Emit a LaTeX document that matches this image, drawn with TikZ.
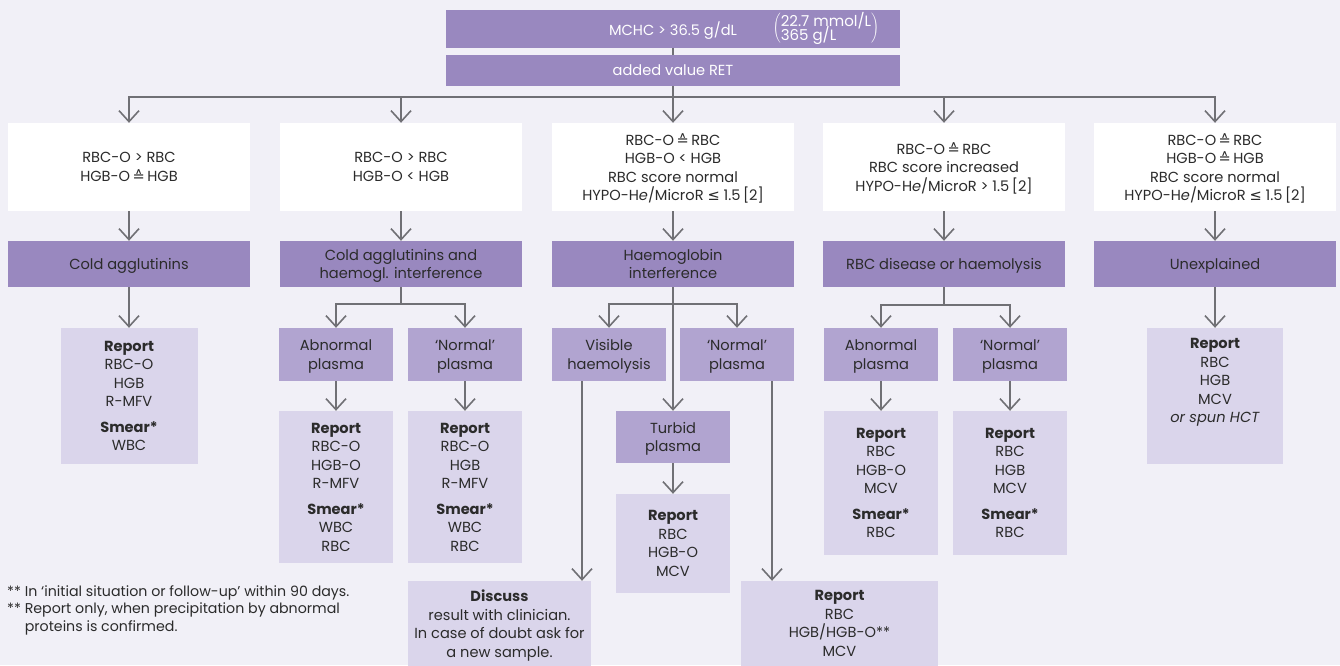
\documentclass[tikz,border=0pt]{standalone}
\usepackage{fontspec}
\setmainfont{Poppins}
\newfontfamily\dvfont{DejaVu Sans}
\usetikzlibrary{arrows.meta}

\definecolor{bgc}{HTML}{F1F0F7}
\definecolor{darkv}{HTML}{9988BF}
\definecolor{midv}{HTML}{B1A4D0}
\definecolor{lightv}{HTML}{DAD5EB}
\definecolor{linec}{HTML}{707075}
\definecolor{txt}{HTML}{2B2B2B}

\newcommand{\eqhat}{{\dvfont ≙}}
\newcommand{\leqs}{{\dvfont ≤}}

\begin{document}
\begin{tikzpicture}[
       x=1pt, y=-1pt,
       font=\fontsize{14.6}{18.5}\selectfont,
       box/.style={inner sep=0pt, align=center, text=txt, text depth=0pt},
       topbox/.style={box, fill=darkv, text=white, minimum width=454pt},
       cond/.style={box, fill=white, minimum width=242pt, minimum height=88pt},
       finding/.style={box, fill=darkv, minimum width=242pt, minimum height=46pt},
       plasma/.style={box, fill=midv, minimum width=114pt, minimum height=53pt},
       report/.style={box, fill=lightv},
       conn/.style={draw=linec, line width=1.6pt},
       arr/.style={conn, -{Straight Barb[length=11pt,width=20pt]}}
     ]
\useasboundingbox (0,0) rectangle (1340,665);
\fill[bgc] (0,0) rectangle (1340,665);

\node[topbox, minimum height=38pt] (mchc) at (673,28.5) {MCHC > 36.5 g/dL};
\node[text=white, inner sep=0pt] (unit) at (826,28.5) {$\left(\vcenter{\hbox{\fontsize{15}{14}\selectfont
  \begin{tabular}{@{}l@{}}22.7 mmol/L\\[-4pt]365 g/L\end{tabular}}}\right)$};
\node[topbox, minimum height=31pt] (ret) at (673,70.5) {added value RET};
\coordinate (hub) at (673,97);

% conditions
\node[cond] (c1) at (129,167) {RBC-O > RBC\\HGB-O\,\eqhat\,HGB};
\node[cond] (c2) at (401,167) {RBC-O > RBC\\HGB-O < HGB};
\node[cond] (c3) at (673,167) {RBC-O\,\eqhat\,RBC\\HGB-O < HGB\\RBC score normal\\HYPO-H\textit{e}/MicroR \leqs\ 1.5\,[2]};
\node[cond] (c4) at (944,167) {RBC-O\,\eqhat\,RBC\\RBC score increased\\HYPO-H\textit{e}/MicroR > 1.5\,[2]};
\node[cond] (c5) at (1215,167) {RBC-O\,\eqhat\,RBC\\HGB-O\,\eqhat\,HGB\\RBC score normal\\HYPO-H\textit{e}/MicroR \leqs\ 1.5\,[2]};

% findings
\node[finding] (d1) at (129,264) {Cold agglutinins};
\node[finding] (d2) at (401,264) {Cold agglutinins and\\haemogl. interference};
\node[finding] (d3) at (673,264) {Haemoglobin\\interference};
\node[finding] (d4) at (944,264) {RBC disease or haemolysis};
\node[finding] (d5) at (1215,264) {Unexplained};

% column 1
\node[report, minimum width=137pt, minimum height=136pt] (r1) at (129,396)
  {\textbf{Report}\\RBC-O\\HGB\\R-MFV\\[7pt]\textbf{Smear*}\\WBC};

% column 2
\coordinate (b2) at (401,304);
\node[plasma] (ab2) at (336,354.5) {Abnormal\\plasma};
\node[plasma] (nm2) at (465,354.5) {‘Normal’\\plasma};
\node[report, minimum width=114pt, minimum height=152pt] (rab2) at (336,487)
  {\textbf{Report}\\RBC-O\\HGB-O\\R-MFV\\[7pt]\textbf{Smear*}\\WBC\\RBC};
\node[report, minimum width=114pt, minimum height=152pt] (rnm2) at (465,487)
  {\textbf{Report}\\RBC-O\\HGB\\R-MFV\\[7pt]\textbf{Smear*}\\WBC\\RBC};

% column 3
\coordinate (b3) at (673,304);
\node[plasma] (vh3) at (609,354.5) {Visible\\haemolysis};
\node[plasma] (nm3) at (737,354.5) {‘Normal’\\plasma};
\node[plasma, minimum height=52pt] (tp3) at (673,437) {Turbid\\plasma};
\node[report, minimum width=114pt, minimum height=99pt] (rt3) at (673,543.5)
  {\textbf{Report}\\RBC\\HGB-O\\MCV};
\node[report, minimum width=183pt, minimum height=85pt] (disc) at (499.5,623.5)
  {\textbf{Discuss}\\result with clinician.\\In case of doubt ask for\\a new sample.};
\node[report, minimum width=197pt, minimum height=85pt] (rnm3) at (839.5,623.5)
  {\textbf{Report}\\RBC\\HGB/HGB-O**\\MCV};

% column 4
\coordinate (b4) at (944,305);
\node[plasma] (ab4) at (881,354.5) {Abnormal\\plasma};
\node[plasma] (nm4) at (1010,354.5) {‘Normal’\\plasma};
\node[report, minimum width=114pt, minimum height=144pt] (rab4) at (881,483)
  {\textbf{Report}\\RBC\\HGB-O\\MCV\\[7pt]\textbf{Smear*}\\RBC};
\node[report, minimum width=114pt, minimum height=144pt] (rnm4) at (1010,483)
  {\textbf{Report}\\RBC\\HGB\\MCV\\[7pt]\textbf{Smear*}\\RBC};

% column 5
\node[report, minimum width=136pt, minimum height=136pt, text depth=31pt] (r5) at (1215,396)
  {\textbf{Report}\\RBC\\HGB\\MCV\\\textit{or spun HCT}};

% footnotes
\node[anchor=north west, inner sep=0pt, text=txt, font=\fontsize{14.2}{17.5}\selectfont] (note) at (7,584)
  {\begin{tabular}{@{}l@{\ }l@{}}{**}&In ‘initial situation or follow-up’ within 90 days.\\
   {**}&Report only, when precipitation by abnormal\\
     &proteins is confirmed.\end{tabular}};

% connectors
\draw[conn] (mchc) -- (ret);
\draw[conn] (ret) -- (hub);
\foreach \i in {1,...,5}{
  \draw[arr] (hub) -| (c\i);
  \draw[arr] (c\i) -- (d\i);
}
\draw[arr] (d1) -- (r1);
\draw[conn] (d2) -- (b2);
\draw[arr] (b2) -| (ab2);
\draw[arr] (b2) -| (nm2);
\draw[arr] (ab2) -- (rab2);
\draw[arr] (nm2) -- (rnm2);
\draw[arr] (d3) -- (tp3);
\draw[arr] (b3) -| (vh3);
\draw[arr] (b3) -| (nm3);
\draw[arr] (tp3) -- (rt3);
\draw[arr] ([xshift=-27pt]vh3.south) -- ([xshift=-27pt]vh3.south |- disc.north);
\draw[arr] ([xshift=35pt]nm3.south) -- ([xshift=35pt]nm3.south |- rnm3.north);
\draw[conn] (d4) -- (b4);
\draw[arr] (b4) -| (ab4);
\draw[arr] (b4) -| (nm4);
\draw[arr] (ab4) -- (rab4);
\draw[arr] (nm4) -- (rnm4);
\draw[arr] (d5) -- (r5);

\end{tikzpicture}
\end{document}
